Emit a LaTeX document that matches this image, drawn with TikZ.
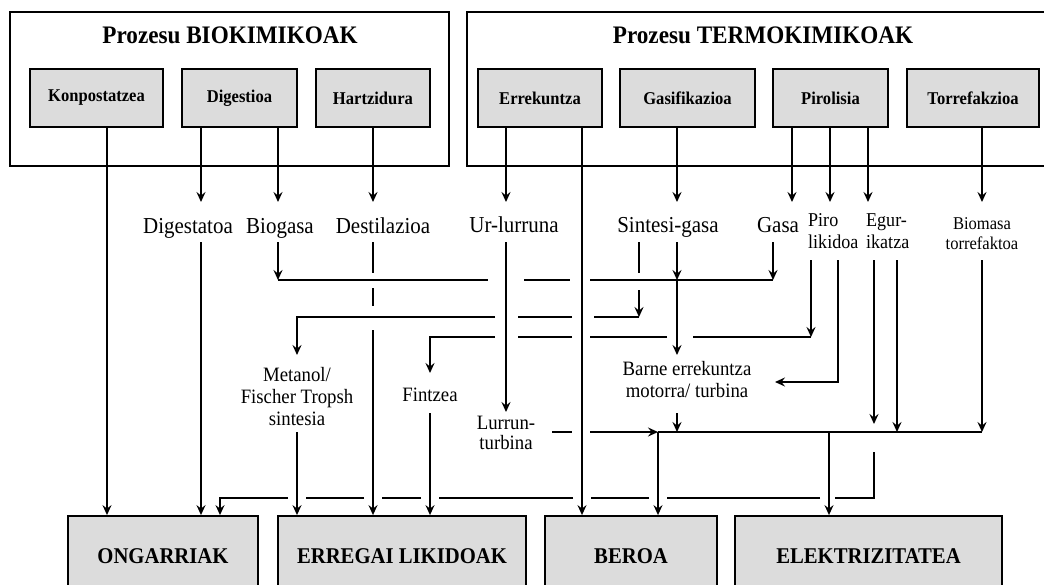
\documentclass[tikz,border=0pt]{standalone}
\usepackage{fontspec}
\setmainfont{Liberation Serif}[FakeStretch=0.92]
\usetikzlibrary{arrows.meta}
\definecolor{boxgray}{RGB}{220,220,220}

\tikzset{
  frame/.style={draw, line width=1.8pt},
  procbox/.style={draw, line width=1.8pt, fill=boxgray, minimum height=58pt,
    inner sep=0pt, font=\fontsize{18}{20}\selectfont\bfseries},
  outbox/.style={draw, line width=1.8pt, fill=boxgray, minimum height=80pt,
    inner sep=0pt, font=\fontsize{22.5}{24}\selectfont\bfseries},
  title/.style={font=\fontsize{25.2}{28}\selectfont\bfseries},
  lbl/.style={font=\fontsize{22.8}{24}\selectfont, inner sep=0pt, anchor=base},
  sublbl/.style={font=\fontsize{20.4}{22}\selectfont, inner sep=0pt, align=center},
  flow/.style={line width=1.7pt},
  arr/.style={flow, -{Stealth[length=10pt,width=9pt,inset=3.5pt]}},
}

\begin{document}
\begin{tikzpicture}[x=1pt,y=-1pt]
  \useasboundingbox (0,0) rectangle (1044,584);
  \clip (0,0) rectangle (1044,584);

  % Prozesu biokimikoak
  \draw[frame] (10,12) rectangle (449,166);
  \node[title] (bioT) at (230,35) {Prozesu BIOKIMIKOAK};
  \node[procbox, minimum width=133pt] (konp) at (96.5,98) {Konpostatzea};
  \node[procbox, minimum width=115pt] (dig) at (239.5,98) {Digestioa};
  \node[procbox, minimum width=114pt] (hartz) at (373,98) {Hartzidura};

  % Prozesu termokimikoak
  \draw[frame] (467,12) rectangle (1060,166);
  \node[title] (termT) at (763,35) {Prozesu TERMOKIMIKOAK};
  \node[procbox, minimum width=124pt] (errek) at (540,98) {Errekuntza};
  \node[procbox, minimum width=135pt] (gasif) at (687.5,98) {Gasifikazioa};
  \node[procbox, minimum width=115pt] (pirol) at (830.5,98) {Pirolisia};
  \node[procbox, minimum width=132pt] (torref) at (973,98) {Torrefakzioa};

  % Produktuak
  \node[outbox, minimum width=190pt] (ong) at (163,556) {ONGARRIAK};
  \node[outbox, minimum width=248pt] (erreg) at (402,556) {ERREGAI LIKIDOAK};
  \node[outbox, minimum width=172pt] (beroa) at (631,556) {BEROA};
  \node[outbox, minimum width=267pt] (elek) at (868.5,556) {ELEKTRIZITATEA};

  % Tarteko produktuak
  \node[lbl] (dgst) at (188,233) {Digestatoa};
  \node[lbl] (biog) at (280,233) {Biogasa};
  \node[lbl] (dest) at (383,233) {Destilazioa};
  \node[lbl] (urlr) at (514,232) {Ur-lurruna};
  \node[lbl] (sint) at (668,232) {Sintesi-gasa};
  \node[lbl] (gasa) at (778,232) {Gasa};
  \node[sublbl, align=left, anchor=west, font=\fontsize{19.6}{22}\selectfont] (plik) at (808,231) {Piro\\likidoa};
  \node[sublbl, align=left, anchor=west, font=\fontsize{19.6}{22}\selectfont] (egur) at (866,231) {Egur-\\ikatza};
  \node[sublbl, font=\fontsize{18}{20}\selectfont] (btor) at (982,234) {Biomasa\\torrefaktoa};
  \node[sublbl, font=\fontsize{20.4}{22}\selectfont] (meta) at (297,397) {Metanol/\\Fischer Tropsh\\sintesia};
  \node[sublbl] (fint) at (430,395) {Fintzea};
  \node[sublbl, font=\fontsize{20.4}{20}\selectfont] (lurr) at (506,433) {Lurrun-\\turbina};
  \node[sublbl] (barn) at (687,380) {Barne errekuntza\\motorra/ turbina};

  % zutabeak eta errenkadak
  \foreach \n/\x in {cK/107,cDg/201,cOn/220,cBg/278,cMe/297,cDs/373,cFi/430,
      cUr/506,cLt/552,cHe/582,cSm/639,cBe/658,cSg/677,cGa/773,cBx/775,cP1/792,
      cPl/811,cEl/829,cP2/830,cPb/838,cP3/868,cE1/874,cE2/897,cTo/982}
    \coordinate (\n) at (\x,0);
  \foreach \n/\y in {rT/202,rL/242,rL2/260,rB/280,rM/317,rF/337,rA/355,
      rFt/373,rP/382,rLt/412,rBo/413,rE/432,rO/498}
    \coordinate (\n) at (0,\y);

  % prozesuetatik
  \draw[arr] (konp.south -| cK) -- (cK |- ong.north);
  \draw[arr] (dig.south -| cDg) -- (cDg |- rT);
  \draw[arr] (dig.south -| cBg) -- (cBg |- rT);
  \draw[arr] (hartz.south -| cDs) -- (cDs |- rT);
  \draw[arr] (errek.south -| cUr) -- (cUr |- rT);
  \draw[arr] (errek.south -| cHe) -- (cHe |- beroa.north);
  \draw[arr] (gasif.south -| cSg) -- (cSg |- rT);
  \foreach \c in {cP1,cP2,cP3}
    \draw[arr] (pirol.south -| \c) -- (\c |- rT);
  \draw[arr] (torref.south -| cTo) -- (cTo |- rT);

  % digestatoa
  \draw[arr] (cDg |- rL) -- (cDg |- ong.north);

  % gasak: biogasa, sintesi-gasa, gasa
  \draw[arr] (cBg |- rL) -- (cBg |- rB);
  \draw[flow] (cBg |- rB) -- ([xshift=-18pt]cUr |- rB);
  \draw[flow] ([xshift=18pt]cUr |- rB) -- ([xshift=-12pt]cHe |- rB);
  \draw[flow] ([xshift=8pt]cHe |- rB) -- (cGa |- rB);
  \draw[arr] (cGa |- rL) -- (cGa |- rB);
  \draw[arr] (cSg |- rL) -- (cSg |- rB);
  \draw[arr] (cSg |- rB) -- (cSg |- rA);

  % sintesi-gasa -> metanol
  \draw[flow] (cSm |- rL) -- ([yshift=7pt]cSm |- rB);
  \draw[arr] ([yshift=-10pt]cSm |- rB) -- (cSm |- rM);
  \draw[flow] (cSm |- rM) -- ([xshift=12pt]cHe |- rM);
  \draw[flow] ([xshift=-10pt]cHe |- rM) -- ([xshift=12pt]cUr |- rM);
  \draw[arr] ([xshift=-11pt]cUr |- rM) -- (cMe |- rM) -- (cMe |- rA);

  % destilazioa
  \draw[flow] (cDs |- rL) -- ([yshift=7pt]cDs |- rB);
  \draw[flow] ([yshift=-8pt]cDs |- rB) -- ([yshift=11pt]cDs |- rM);
  \draw[arr] ([yshift=-13pt]cDs |- rM) -- (cDs |- erreg.north);

  % piro likidoa -> fintzea
  \draw[arr] (cPl |- rL2) -- (cPl |- rF);
  \draw[flow] (cPl |- rF) -- ([xshift=16pt]cSg |- rF);
  \draw[flow] ([xshift=-10pt]cSg |- rF) -- ([xshift=8pt]cHe |- rF);
  \draw[flow] ([xshift=-10pt]cHe |- rF) -- ([xshift=12pt]cUr |- rF);
  \draw[arr] ([xshift=-11pt]cUr |- rF) -- (cFi |- rF) -- (cFi |- rFt);

  % piro likidoa -> barne errekuntza
  \draw[arr] (cPb |- rL2) -- (cPb |- rP) -- (cBx |- rP);

  % egur-ikatza eta biomasa torrefaktoa
  \draw[arr] (cE1 |- rL2) -- ([yshift=8pt]cE1 |- rE);
  \draw[arr] (cE2 |- rL2) -- (cE2 |- rE);
  \draw[arr] (cTo |- rL2) -- (cTo |- rE);

  % egur-ikatza -> ongarriak
  \draw[flow] ([yshift=-20pt]cE1 |- rE) -- (cE1 |- rO) -- ([xshift=6pt]cEl |- rO);
  \foreach \a/\b in {cEl/cBe,cBe/cHe,cHe/cFi,cFi/cDs,cDs/cMe}
    \draw[flow] ([xshift=-9pt]\a |- rO) -- ([xshift=9pt]\b |- rO);
  \draw[arr] ([xshift=-9pt]cMe |- rO) -- (cOn |- rO) -- (cOn |- ong.north);

  % ur-lurruna -> lurrun-turbina
  \draw[arr] (cUr |- rL) -- (cUr |- rLt);

  % elektrizitate lerroa
  \draw[flow] (cLt |- rE) -- ([xshift=-10pt]cHe |- rE);
  \draw[arr] ([xshift=8pt]cHe |- rE) -- (cBe |- rE);
  \draw[arr] (cSg |- rBo) -- (cSg |- rE);
  \draw[flow] (cBe |- rE) -- (cTo |- rE);
  \draw[arr] (cBe |- rE) -- (cBe |- beroa.north);
  \draw[arr] (cEl |- rE) -- (cEl |- elek.north);

  % erregai likidoak
  \draw[arr] (cMe |- rE) -- (cMe |- erreg.north);
  \draw[arr] (cFi |- rBo) -- (cFi |- erreg.north);
\end{tikzpicture}
\end{document}
